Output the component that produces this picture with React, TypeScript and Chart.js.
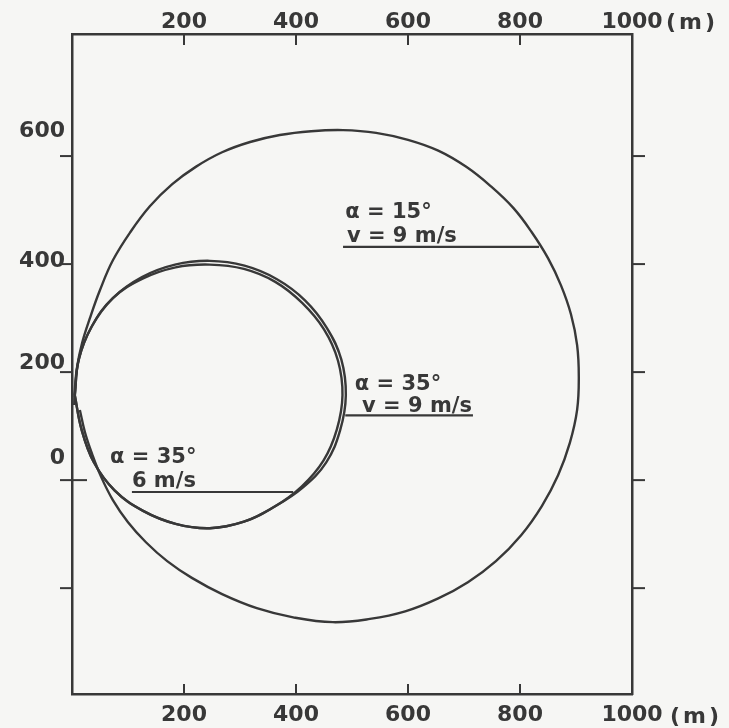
import React, { useEffect, useRef } from "react";
import { Chart, registerables } from "chart.js";

Chart.register(...registerables);

// ---------- data (metres) ----------
const xTicks = [200, 400, 600, 800, 1000];
const yTicks = [-200, 0, 200, 400, 600];
const yLabeled = [0, 200, 400, 600];
const xUnit = "(m)";

// alpha = 15 deg, v = 9 m/s
const bigX = [14, 23, 36, 52, 73, 100, 132, 170, 214, 268, 330, 395, 466, 532, 595, 654, 707, 757, 802, 839, 868, 889, 902, 905, 902, 891, 873, 850, 821, 788, 748, 704, 654, 600, 543, 484, 427, 371, 318, 268, 221, 179, 139, 104, 73, 50, 32, 18, 9, 5, 4];
const bigY = [130, 89, 48, 6, -37, -78, -115, -150, -181, -211, -237, -254, -263, -257, -243, -219, -189, -150, -102, -48, 9, 69, 130, 191, 250, 307, 361, 411, 459, 504, 544, 580, 610, 630, 643, 648, 646, 639, 626, 607, 580, 548, 507, 459, 407, 352, 300, 254, 209, 167, 139];

// alpha = 35 deg, v = 9 m/s
const a35v9X = [5, 12, 35, 73, 125, 184, 246, 308, 366, 416, 455, 481, 489, 479, 454, 412, 362, 307, 246, 185, 127, 76, 39, 17, 5];
const a35v9Y = [157, 223, 284, 337, 376, 399, 406, 397, 372, 333, 282, 223, 157, 93, 33, -14, -49, -77, -89, -81, -57, -19, 33, 94, 157];

// alpha = 35 deg, v = 6 m/s
const a35v6X = [5, 12, 35, 73, 126, 185, 246, 307, 363, 411, 450, 475, 483, 473, 449, 410, 362, 307, 246, 185, 127, 76, 39, 17, 5];
const a35v6Y = [157, 223, 284, 337, 373, 394, 399, 391, 367, 328, 279, 221, 157, 94, 36, -12, -49, -77, -89, -81, -57, -19, 33, 94, 157];

// leader lines under the labels
const lead15X = [484, 834];
const lead15Y = [432, 432];
const lead35v9X = [488, 716];
const lead35v9Y = [120, 120];
const lead35v6X = [107, 395];
const lead35v6Y = [-22, -22];

// curve labels (left edge / baseline, in data units)
const notes = [
  { text: "α = 15°", x: 488, y: 485 },
  { text: "v = 9 m/s", x: 491, y: 441 },
  { text: "α = 35°", x: 505, y: 167 },
  { text: "v = 9 m/s", x: 518, y: 126 },
  { text: "α = 35°", x: 68, y: 31 },
  { text: "6 m/s", x: 107, y: -13 },
];

// ---------- style ----------
const W = 729;
const H = 728;
const INK = "#383838";
const BG = "#f6f6f4";
const FONT = "'DejaVu Sans', sans-serif";
// hand-lettered y labels sit a little above their ticks (px)
const yLabelShift: Record<number, number> = { 600: -25, 400: -3, 200: -9, 0: -22 };

const pts = (xs: number[], ys: number[]) => xs.map((x, i) => ({ x, y: ys[i] }));

const decor = {
  id: "decor",
  afterDraw(chart: any) {
    const { ctx, scales, chartArea: a } = chart;
    const xs = scales.x;
    const ys = scales.y;
    const seg = (x1: number, y1: number, x2: number, y2: number) => {
      ctx.beginPath();
      ctx.moveTo(x1, y1);
      ctx.lineTo(x2, y2);
      ctx.stroke();
    };
    ctx.save();
    ctx.strokeStyle = INK;
    ctx.lineWidth = 2;
    for (const v of xTicks) {
      if (v >= 1000) continue;
      const px = xs.getPixelForValue(v);
      seg(px, a.top, px, a.top + 11);
      seg(px, a.bottom, px, a.bottom - 10);
    }
    for (const v of yTicks) {
      const py = ys.getPixelForValue(v);
      seg(a.left - 12, py, a.left + (v === 0 ? 15 : 0), py);
      seg(a.right, py, a.right + 13, py);
    }
    ctx.fillStyle = INK;
    // y tick labels
    ctx.font = `bold 22px ${FONT}`;
    ctx.textAlign = "right";
    ctx.textBaseline = "middle";
    for (const v of yLabeled) {
      ctx.fillText(String(v), a.left - 7, ys.getPixelForValue(v) + (yLabelShift[v] || 0));
    }
    // unit
    ctx.textAlign = "left";
    ctx.textBaseline = "alphabetic";
    (ctx as any).letterSpacing = "3px";
    ctx.fillText(xUnit, a.right + 34, 29);
    ctx.fillText(xUnit, a.right + 38, 723);
    (ctx as any).letterSpacing = "0px";
    // curve labels
    ctx.font = `bold 21px ${FONT}`;
    for (const n of notes) {
      ctx.fillText(n.text, xs.getPixelForValue(n.x), ys.getPixelForValue(n.y));
    }
    ctx.restore();
  },
};

export default function App() {
  const ref = useRef<HTMLCanvasElement>(null);
  useEffect(() => {
    const canvas = ref.current!;
    const curve = (data: any[], tension: number, width: number) => ({
      data,
      showLine: true,
      pointRadius: 0,
      borderColor: INK,
      borderWidth: width,
      tension,
      fill: false,
    });
    const tickFont = { family: FONT, size: 22, weight: "bold" as const };
    const xAxis = (position: "top" | "bottom", padding: number) => ({
      type: "linear" as const,
      position,
      min: 0,
      max: 1000,
      afterBuildTicks: (s: any) => {
        s.ticks = xTicks.map((v) => ({ value: v }));
      },
      afterFit: (s: any) => {
        s.height = 34;
      },
      grid: { display: false, drawTicks: false },
      border: { display: true, color: INK, width: 2.5 },
      ticks: {
        color: INK,
        font: tickFont,
        padding,
        maxRotation: 0,
        autoSkip: false,
        callback: (v: any) => String(v),
      },
    });
    const chart = new Chart(canvas, {
      type: "scatter",
      data: {
        datasets: [
          curve(pts(bigX, bigY), 0.4, 2.4),
          curve(pts(a35v9X, a35v9Y), 0.4, 2.4),
          curve(pts(a35v6X, a35v6Y), 0.4, 2.4),
          curve(pts(lead15X, lead15Y), 0, 2.2),
          curve(pts(lead35v9X, lead35v9Y), 0, 2.2),
          curve(pts(lead35v6X, lead35v6Y), 0, 2.2),
        ],
      },
      options: {
        responsive: false,
        maintainAspectRatio: false,
        animation: false,
        layout: { padding: 0 },
        plugins: { legend: { display: false }, tooltip: { enabled: false } },
        scales: {
          x: xAxis("top", -1),
          x2: xAxis("bottom", 8),
          y: {
            type: "linear",
            position: "left",
            min: -396,
            max: 826,
            afterBuildTicks: (s: any) => {
              s.ticks = yTicks.map((v) => ({ value: v }));
            },
            afterFit: (s: any) => {
              s.width = 72;
            },
            grid: { display: false, drawTicks: false },
            border: { display: true, color: INK, width: 2.5 },
            ticks: { display: false },
          },
          y2: {
            type: "linear",
            position: "right",
            min: -396,
            max: 826,
            afterFit: (s: any) => {
              s.width = W - 632;
            },
            grid: { display: false, drawTicks: false },
            border: { display: true, color: INK, width: 2.5 },
            ticks: { display: false },
          },
        },
      },
      plugins: [decor],
    });
    return () => chart.destroy();
  }, []);
  return (
    <div style={{ position: "fixed", left: 0, top: 0, width: W, height: H, background: BG }}>
      <canvas ref={ref} width={W} height={H} style={{ display: "block" }} />
    </div>
  );
}
